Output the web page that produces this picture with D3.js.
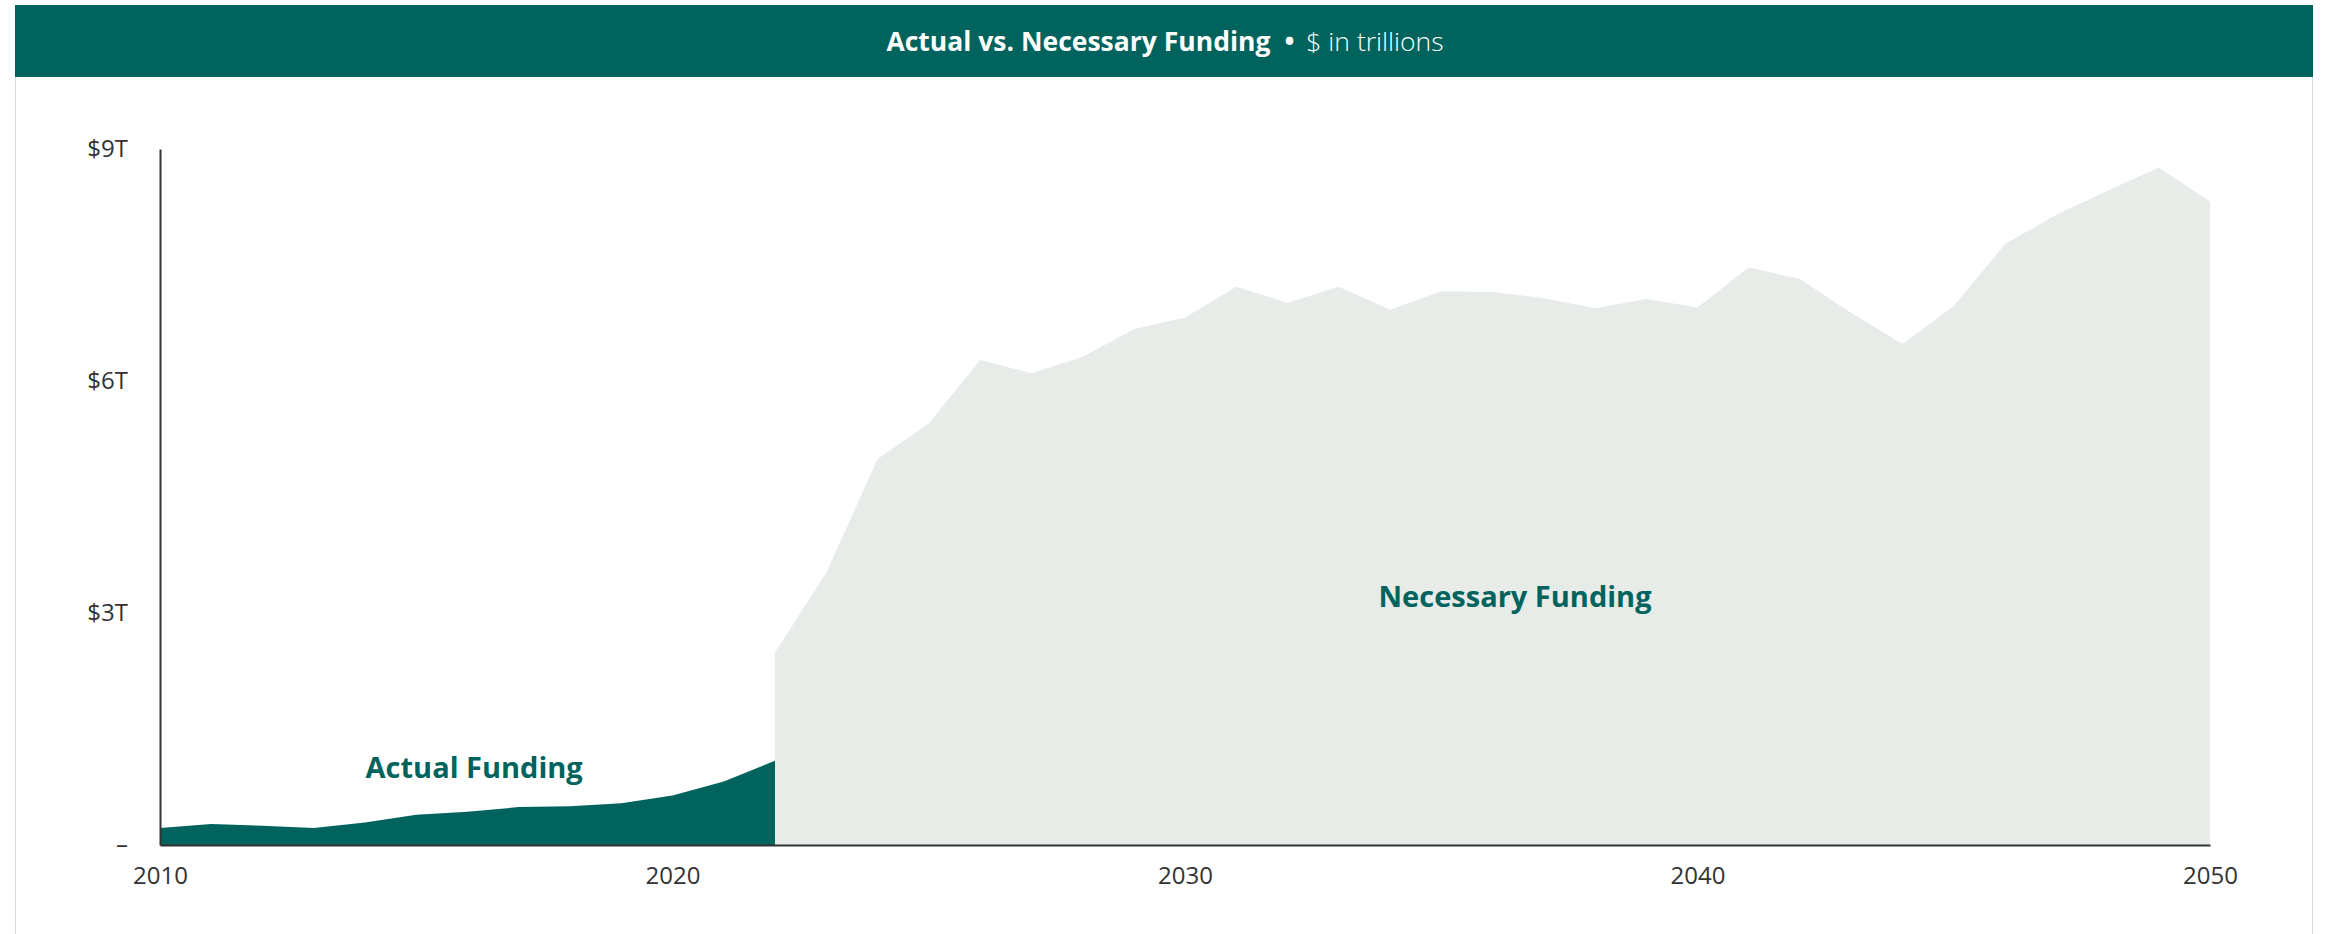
<!DOCTYPE html>
<html>
<head>
<meta charset="utf-8">
<script src="https://cdn.jsdelivr.net/npm/d3@7"></script>
<style>
  body { margin: 0; background: #fff; font-family: "Open Sans", sans-serif; }
</style>
</head>
<body>
<div id="chart"></div>
<script>
// ---- data ($ trillions) ----
const actualYears = [2010, 2011, 2012, 2013, 2014, 2015, 2016, 2017, 2018, 2019, 2020, 2021, 2022];
const actualValues = [0.22, 0.27, 0.25, 0.22, 0.29, 0.39, 0.43, 0.49, 0.50, 0.54, 0.64, 0.82, 1.09];

const necessaryYears = [2022, 2023, 2024, 2025, 2026, 2027, 2028, 2029, 2030, 2031, 2032, 2033, 2034, 2035,
  2036, 2037, 2038, 2039, 2040, 2041, 2042, 2043, 2044, 2045, 2046, 2047, 2048, 2049, 2050];
const necessaryValues = [2.49, 3.52, 4.99, 5.45, 6.27, 6.10, 6.31, 6.67, 6.82, 7.22, 7.01, 7.22, 6.92, 7.16,
  7.15, 7.07, 6.94, 7.06, 6.95, 7.47, 7.32, 6.88, 6.48, 6.97, 7.77, 8.15, 8.46, 8.76, 8.32];

const yTicks = [0, 3, 6, 9];
const yTickLabels = ["–", "$3T", "$6T", "$9T"];
const xTicks = [2010, 2020, 2030, 2040, 2050];

// ---- layout ----
const width = 2328;
const height = 934;
const TEAL = "#00635D";
const NECESSARY_FILL = "#E7ECE9";
const AXIS_COLOR = "#333";
const TEXT_COLOR = "#333";

const X_LEFT = 160;
const X_RIGHT = 2210;
const Y_TOP = 149;
const Y_BOTTOM = 845;

const svg = d3.select("#chart")
  .append("svg")
  .attr("width", width)
  .attr("height", height);

// container border + header band
svg.append("rect")
  .attr("x", 15.5).attr("y", 5.5)
  .attr("width", 2297).attr("height", 940)
  .attr("fill", "none")
  .attr("stroke", "#dcdcdc")
  .attr("stroke-width", 1);

svg.append("rect")
  .attr("x", 15).attr("y", 5)
  .attr("width", 2298).attr("height", 72)
  .attr("fill", TEAL);

const title = svg.append("text")
  .attr("x", 1165)
  .attr("y", 41)
  .attr("text-anchor", "middle")
  .attr("dominant-baseline", "central")
  .style("font-size", "26.5px")
  .style("fill", "#fff");
title.append("tspan").style("font-weight", 700).text("Actual vs. Necessary Funding");
title.append("tspan").attr("dx", 14).style("font-weight", 700).text("•");
title.append("tspan").attr("dx", 12).style("font-weight", 300).text("$ in trillions");

// scales
const x = d3.scaleLinear().domain([2010, 2050]).range([X_LEFT, X_RIGHT]);
const y = d3.scaleLinear().domain([0, 9]).range([Y_BOTTOM, Y_TOP]);

const area = d3.area()
  .x((d) => x(d[0]))
  .y0(y(0))
  .y1((d) => y(d[1]));

// necessary funding area
svg.append("path")
  .datum(d3.zip(necessaryYears, necessaryValues))
  .attr("d", area)
  .attr("fill", NECESSARY_FILL);

// actual funding area
svg.append("path")
  .datum(d3.zip(actualYears, actualValues))
  .attr("d", area)
  .attr("fill", TEAL);

// y axis
const yAxis = svg.append("g")
  .attr("transform", `translate(${X_LEFT},0)`)
  .call(d3.axisLeft(y).tickValues(yTicks).tickSize(0).tickPadding(32)
    .tickFormat((d, i) => yTickLabels[i]));
yAxis.select(".domain")
  .attr("stroke", AXIS_COLOR)
  .attr("stroke-width", 2);
yAxis.selectAll("text")
  .attr("font-family", "'Open Sans', sans-serif")
  .style("font-size", "24px")
  .attr("fill", TEXT_COLOR);

// x axis
const xAxis = svg.append("g")
  .attr("transform", `translate(0,${Y_BOTTOM})`)
  .call(d3.axisBottom(x).tickValues(xTicks).tickSize(0).tickPadding(22)
    .tickFormat(d3.format("d")));
xAxis.select(".domain")
  .attr("stroke", AXIS_COLOR)
  .attr("stroke-width", 2);
xAxis.selectAll("text")
  .attr("font-family", "'Open Sans', sans-serif")
  .style("font-size", "24px")
  .attr("fill", TEXT_COLOR);

// series labels
svg.append("text")
  .attr("x", x(2016.13))
  .attr("y", y(1.0))
  .attr("dy", "0.35em")
  .attr("text-anchor", "middle")
  .style("font-size", "29px")
  .style("font-weight", 700)
  .style("fill", TEAL)
  .text("Actual Funding");

svg.append("text")
  .attr("x", x(2036.44))
  .attr("y", y(3.21))
  .attr("dy", "0.35em")
  .attr("text-anchor", "middle")
  .style("font-size", "29px")
  .style("font-weight", 700)
  .style("fill", TEAL)
  .text("Necessary Funding");
</script>
</body>
</html>
